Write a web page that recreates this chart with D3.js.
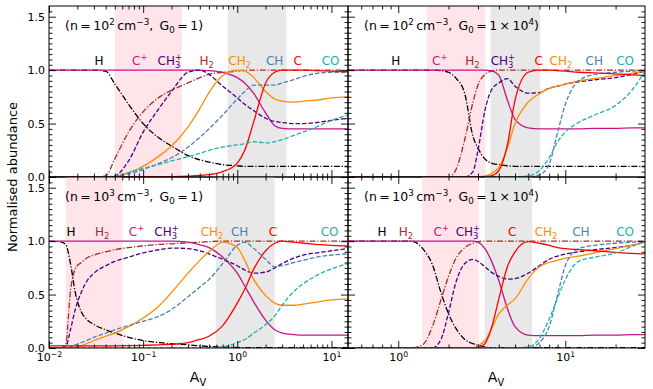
<!DOCTYPE html>
<html>
<head>
<meta charset="utf-8">
<script src="https://cdn.jsdelivr.net/npm/d3@7"></script>
<style>
body { margin: 0; background: #fff; }
svg { display: block; font-family: 'DejaVu Sans', sans-serif; }
</style>
</head>
<body>
<svg id="chart" width="653" height="389"></svg>
<script>
// A_V grids shared by the panels of each column
const avLeft = [0.01, 0.013, 0.015, 0.017, 0.019, 0.022, 0.025, 0.03, 0.04, 0.05, 0.07, 0.1, 0.15, 0.2, 0.3, 0.4, 0.5, 0.7, 1, 1.2, 1.5, 2, 2.5, 3, 4, 5, 7, 10, 15];
const avRight = [0.5, 0.7, 1, 1.2, 1.4, 1.6, 1.8, 2, 2.2, 2.5, 2.8, 3, 3.3, 3.6, 4, 4.5, 5, 6, 7, 8, 9, 10, 12, 15, 20, 25, 30];

const species = ['H', 'H2', 'Cp', 'CH3p', 'CH2', 'CH', 'C', 'CO'];

// n = 1e2, G0 = 1
const n2g1 = {
	H:    [1, 1, 1, 1, 1, 1, 1, 1, 0.99, 0.87, 0.68, 0.50, 0.36, 0.29, 0.20, 0.16, 0.14, 0.115, 0.105, 0.10, 0.10, 0.10, 0.10, 0.10, 0.10, 0.10, 0.10, 0.10, 0.10],
	H2:   [0, 0, 0, 0, 0, 0, 0, 0, 0.01, 0.17, 0.42, 0.61, 0.75, 0.81, 0.88, 0.93, 0.96, 0.98, 0.99, 1, 1, 1, 1, 1, 1, 1, 1, 1, 1],
	Cp:   [1, 1, 1, 1, 1, 1, 1, 1, 1, 1, 1, 1, 1, 1, 1, 1, 0.995, 0.98, 0.93, 0.88, 0.78, 0.60, 0.48, 0.455, 0.45, 0.45, 0.45, 0.45, 0.45],
	CH3p: [0, 0, 0, 0, 0, 0, 0, 0, 0, 0.01, 0.15, 0.42, 0.65, 0.80, 0.98, 1.0, 0.96, 0.85, 0.74, 0.68, 0.62, 0.55, 0.52, 0.51, 0.50, 0.50, 0.51, 0.53, 0.55],
	CH2:  [0, 0, 0, 0, 0, 0, 0, 0, 0, 0.005, 0.04, 0.10, 0.20, 0.29, 0.47, 0.64, 0.79, 0.95, 1.0, 0.99, 0.93, 0.80, 0.73, 0.71, 0.70, 0.71, 0.72, 0.74, 0.75],
	CH:   [0, 0, 0, 0, 0, 0, 0, 0, 0, 0.005, 0.03, 0.07, 0.13, 0.18, 0.28, 0.37, 0.45, 0.58, 0.73, 0.80, 0.86, 0.86, 0.86, 0.88, 0.91, 0.94, 0.97, 0.98, 0.98],
	C:    [0.003, 0.003, 0.003, 0.003, 0.003, 0.003, 0.003, 0.003, 0.003, 0.003, 0.003, 0.003, 0.003, 0.003, 0.008, 0.014, 0.022, 0.05, 0.13, 0.25, 0.52, 0.88, 0.98, 1.0, 1.0, 1.0, 0.995, 0.99, 0.985],
	CO:   [0, 0, 0, 0, 0, 0, 0, 0, 0, 0.005, 0.04, 0.08, 0.12, 0.15, 0.19, 0.22, 0.25, 0.28, 0.30, 0.31, 0.33, 0.32, 0.33, 0.35, 0.39, 0.42, 0.47, 0.53, 0.58]
};

// n = 1e3, G0 = 1
const n3g1 = {
	H:    [1, 0.995, 0.97, 0.78, 0.52, 0.34, 0.27, 0.22, 0.17, 0.14, 0.10, 0.07, 0.05, 0.04, 0.03, 0.02, 0.015, 0.01, 0.005, 0.003, 0.003, 0.003, 0.003, 0.003, 0.003, 0.003, 0.003, 0.003, 0.003],
	H2:   [0, 0, 0.03, 0.55, 0.74, 0.80, 0.84, 0.87, 0.90, 0.92, 0.94, 0.955, 0.97, 0.975, 0.985, 0.99, 0.995, 1, 1, 1, 1, 1, 1, 1, 1, 1, 1, 1, 1],
	Cp:   [1, 1, 1, 1, 1, 1, 1, 1, 1, 1, 1, 1, 1, 1, 0.99, 0.965, 0.94, 0.85, 0.70, 0.58, 0.43, 0.26, 0.17, 0.14, 0.125, 0.12, 0.12, 0.12, 0.12],
	CH3p: [0, 0, 0.01, 0.18, 0.36, 0.52, 0.62, 0.70, 0.77, 0.81, 0.85, 0.89, 0.92, 0.935, 0.93, 0.91, 0.88, 0.83, 0.77, 0.73, 0.70, 0.71, 0.75, 0.79, 0.84, 0.87, 0.89, 0.91, 0.93],
	CH2:  [0, 0, 0, 0, 0.005, 0.02, 0.04, 0.07, 0.11, 0.14, 0.20, 0.28, 0.40, 0.52, 0.70, 0.82, 0.90, 0.99, 0.94, 0.82, 0.64, 0.49, 0.42, 0.40, 0.40, 0.41, 0.43, 0.45, 0.46],
	CH:   [0, 0, 0, 0.01, 0.03, 0.05, 0.07, 0.10, 0.14, 0.17, 0.21, 0.25, 0.30, 0.36, 0.48, 0.57, 0.64, 0.79, 0.96, 0.99, 0.93, 0.83, 0.76, 0.77, 0.80, 0.82, 0.85, 0.87, 0.88],
	C:    [0.02, 0.02, 0.02, 0.02, 0.02, 0.02, 0.02, 0.02, 0.02, 0.02, 0.022, 0.025, 0.03, 0.035, 0.05, 0.08, 0.11, 0.21, 0.42, 0.55, 0.74, 0.91, 0.98, 1.0, 0.99, 0.98, 0.97, 0.96, 0.955],
	CO:   [0, 0, 0, 0, 0, 0, 0, 0, 0, 0, 0, 0, 0, 0, 0, 0, 0, 0.01, 0.05, 0.08, 0.14, 0.22, 0.30, 0.40, 0.53, 0.60, 0.68, 0.74, 0.79]
};

// n = 1e2, G0 = 1e4
const n2g4 = {
	H:    [1, 1, 1, 1, 1, 1, 0.995, 0.98, 0.93, 0.78, 0.38, 0.27, 0.17, 0.13, 0.115, 0.105, 0.10, 0.10, 0.10, 0.10, 0.10, 0.10, 0.10, 0.10, 0.10, 0.10, 0.10],
	H2:   [0, 0, 0, 0, 0, 0, 0, 0, 0.06, 0.35, 0.70, 0.86, 0.96, 0.99, 1, 1, 1, 1, 1, 1, 1, 1, 1, 1, 1, 1, 1],
	Cp:   [1, 1, 1, 1, 1, 1, 1, 1, 1, 1, 1, 1, 1, 0.995, 0.95, 0.72, 0.54, 0.46, 0.45, 0.45, 0.45, 0.45, 0.45, 0.455, 0.455, 0.46, 0.46],
	CH3p: [0, 0, 0, 0, 0, 0, 0, 0, 0, 0, 0.05, 0.25, 0.62, 0.81, 0.88, 0.92, 0.85, 0.785, 0.79, 0.83, 0.85, 0.87, 0.89, 0.91, 0.93, 0.96, 0.99],
	CH2:  [0, 0, 0, 0, 0, 0, 0, 0, 0, 0, 0, 0, 0.01, 0.03, 0.09, 0.27, 0.50, 0.70, 0.78, 0.83, 0.85, 0.87, 0.90, 0.92, 0.95, 0.97, 0.99],
	CH:   [0, 0, 0, 0, 0, 0, 0, 0, 0, 0, 0, 0, 0, 0, 0, 0, 0, 0, 0.02, 0.12, 0.42, 0.68, 0.90, 0.96, 0.98, 0.99, 1.0],
	C:    [0.003, 0.003, 0.003, 0.003, 0.003, 0.003, 0.003, 0.003, 0.003, 0.003, 0.003, 0.003, 0.003, 0.01, 0.06, 0.30, 0.72, 0.98, 1.0, 1.0, 0.995, 0.99, 0.98, 0.975, 0.965, 0.955, 0.95],
	CO:   [0, 0, 0, 0, 0, 0, 0, 0, 0, 0, 0, 0, 0, 0, 0, 0, 0, 0.01, 0.06, 0.18, 0.33, 0.42, 0.51, 0.58, 0.67, 0.81, 0.99]
};

// n = 1e3, G0 = 1e4
const n3g4 = {
	H:    [1, 1, 1, 1, 0.93, 0.78, 0.52, 0.32, 0.19, 0.08, 0.04, 0.025, 0.01, 0.003, 0.003, 0.003, 0.003, 0.003, 0.003, 0.003, 0.003, 0.003, 0.003, 0.003, 0.003, 0.003, 0.003],
	H2:   [0, 0, 0, 0, 0.03, 0.20, 0.45, 0.67, 0.83, 0.94, 0.98, 0.995, 1, 1, 1, 1, 1, 1, 1, 1, 1, 1, 1, 1, 1, 1, 1],
	Cp:   [1, 1, 1, 1, 1, 1, 1, 1, 1, 1, 1, 0.99, 0.93, 0.82, 0.63, 0.37, 0.20, 0.12, 0.115, 0.115, 0.115, 0.115, 0.115, 0.12, 0.12, 0.125, 0.125],
	CH3p: [0, 0, 0, 0, 0, 0, 0.08, 0.33, 0.60, 0.79, 0.83, 0.81, 0.76, 0.71, 0.67, 0.645, 0.65, 0.70, 0.77, 0.83, 0.86, 0.88, 0.90, 0.92, 0.94, 0.96, 0.99],
	CH2:  [0, 0, 0, 0, 0, 0, 0, 0, 0, 0, 0, 0.02, 0.07, 0.17, 0.32, 0.40, 0.46, 0.65, 0.76, 0.80, 0.82, 0.84, 0.86, 0.89, 0.93, 0.96, 0.99],
	CH:   [0, 0, 0, 0, 0, 0, 0, 0, 0, 0, 0, 0, 0, 0, 0, 0, 0, 0, 0.05, 0.20, 0.50, 0.77, 0.93, 0.96, 0.98, 0.99, 1.0],
	C:    [0.003, 0.003, 0.003, 0.003, 0.003, 0.003, 0.003, 0.003, 0.003, 0.003, 0.003, 0.005, 0.04, 0.18, 0.46, 0.76, 0.90, 0.995, 0.98, 0.96, 0.94, 0.93, 0.92, 0.91, 0.895, 0.885, 0.88],
	CO:   [0, 0, 0, 0, 0, 0, 0, 0, 0, 0, 0, 0, 0, 0, 0, 0, 0, 0.01, 0.09, 0.27, 0.47, 0.64, 0.81, 0.85, 0.89, 0.95, 1.0]
};

// shaded A_V ranges [pink, grey]
const bandsTL = [[0.05, 0.257], [0.79, 3.34]];
const bandsBL = [[0.0151, 0.0604], [0.59, 2.49]];
const bandsTR = [[1.48, 3.32], [3.57, 7.06]];
const bandsBR = [[1.39, 3.03], [3.29, 6.33]];

// species label A_V positions
const labelsTL = [['H', 0.034], ['Cp', 0.092], ['CH3p', 0.192], ['H2', 0.474], ['CH2', 1.06], ['CH', 2.49], ['C', 4.37], ['CO', 9.8]];
const labelsBL = [['H', 0.0171], ['H2', 0.0367], ['Cp', 0.085], ['CH3p', 0.177], ['CH2', 0.54], ['CH', 1.06], ['C', 2.39], ['CO', 9.55]];
const labelsTR = [['H', 0.965], ['Cp', 1.77], ['H2', 2.78], ['CH3p', 4.23], ['C', 6.93], ['CH2', 9.42], ['CH', 14.9], ['CO', 22.8]];
const labelsBR = [['H', 0.80], ['H2', 1.11], ['Cp', 1.81], ['CH3p', 2.61], ['C', 4.81], ['CH2', 7.67], ['CH', 12.4], ['CO', 22.8]];

const style = {
	H:    { color: '#000000', dash: '6,1.8,1.2,1.8' },
	H2:   { color: '#a52a2a', dash: '6,1.8,1.2,1.8' },
	Cp:   { color: '#c71585', dash: null },
	CH3p: { color: '#4b0082', dash: '4.5,2' },
	CH2:  { color: '#ff8c00', dash: null },
	CH:   { color: '#4682b4', dash: '4.5,2' },
	C:    { color: '#ff0000', dash: null },
	CO:   { color: '#20b2aa', dash: '4.5,2' }
};
// parts: [text, 'n' | 'sup' | 'sub' | 'stack']
const labelParts = {
	H: [['H', 'n']],
	H2: [['H', 'n'], ['2', 'sub']],
	Cp: [['C', 'n'], ['+', 'sup']],
	CH3p: [['CH', 'n'], ['3', 'sub'], ['+', 'stack']],
	CH2: [['CH', 'n'], ['2', 'sub']],
	CH: [['CH', 'n']],
	C: [['C', 'n']],
	CO: [['CO', 'n']]
};

const svg = d3.select('#chart');
const cols = { left: [49, 348], right: [348, 645] };
const rows = { top: [6, 177], bottom: [177, 348] };

const rich = (text, parts, size) => {
	let off = 0;
	parts.forEach(([s, kind]) => {
		let target = 0;
		if (kind === 'sup') target = -0.4 * size;
		if (kind === 'sub') target = 0.25 * size;
		if (kind === 'stack') target = -0.42 * size;
		let t = text.append('tspan').text(s).attr('dy', target - off);
		if (kind !== 'n') t.attr('font-size', size * 0.7);
		if (kind === 'stack') t.attr('dx', -0.45 * size);
		off = target;
	});
};

const panel = (cfg) => {
	let [x0, x1] = cols[cfg.col], [y0, y1] = rows[cfg.row],
		x = d3.scaleLog().domain(cfg.domain).range([x0, x1]),
		y = d3.scaleLinear().domain([0, 1.6]).range([y1, y0]),
		id = 'clip-' + cfg.col + cfg.row,
		g = svg.append('g');

	svg.append('clipPath').attr('id', id)
		.append('rect').attr('x', x0).attr('y', y0).attr('width', x1 - x0).attr('height', y1 - y0);

	g.selectAll('rect.band').data(cfg.bands).enter().append('rect')
		.attr('x', d => x(d[0]))
		.attr('y', y0)
		.attr('width', d => x(d[1]) - x(d[0]))
		.attr('height', y1 - y0)
		.attr('fill', (d, i) => i === 0 ? '#ffe4e9' : '#e8e8e8');

	let line = d3.line()
		.x(d => x(d[0]))
		.y(d => y(d[1]))
		.curve(d3.curveMonotoneX);

	let lines = g.append('g').attr('clip-path', `url(#${id})`);
	species.forEach(s => {
		lines.append('path')
			.datum(cfg.grid.map((a, i) => [a, cfg.data[s][i]]))
			.attr('d', line)
			.attr('fill', 'none')
			.attr('stroke', style[s].color)
			.attr('stroke-width', 1.3)
			.attr('stroke-dasharray', style[s].dash);
	});

	cfg.labels.forEach(([s, a]) => {
		let t = g.append('text')
			.attr('x', x(a))
			.attr('y', y(1.05))
			.attr('text-anchor', 'middle')
			.attr('font-size', 12)
			.attr('fill', style[s].color);
		rich(t, labelParts[s], 12);
	});

	let note = g.append('text')
		.attr('x', x0 + 16)
		.attr('y', y0 + 24)
		.attr('font-size', 12.5)
		.attr('fill', '#000');
	rich(note, cfg.note, 12.5);

	// axes: ticks inward on all four sides
	let decades = cfg.majors,
		minors = [];
	d3.range(Math.floor(Math.log10(cfg.domain[0])), Math.ceil(Math.log10(cfg.domain[1]))).forEach(e => {
		for (let k = 2; k < 10; k++) {
			let v = k * Math.pow(10, e);
			if (v > cfg.domain[0] && v < cfg.domain[1]) minors.push(v);
		}
	});
	let yMajor = [0, 0.5, 1.0, 1.5],
		yMinor = d3.range(1, 33).map(i => i * 0.05).filter(v => Math.abs(v * 2 - Math.round(v * 2)) > 1e-6 && v < 1.6);

	let axes = [
		[d3.axisBottom(x).tickValues(decades).tickSize(-7), `translate(0,${y1})`, cfg.row === 'bottom'],
		[d3.axisBottom(x).tickValues(minors).tickSize(-3.5), `translate(0,${y1})`, false],
		[d3.axisTop(x).tickValues(decades).tickSize(-7), `translate(0,${y0})`, false],
		[d3.axisTop(x).tickValues(minors).tickSize(-3.5), `translate(0,${y0})`, false],
		[d3.axisLeft(y).tickValues(yMajor).tickSize(-7), `translate(${x0},0)`, cfg.col === 'left'],
		[d3.axisLeft(y).tickValues(yMinor).tickSize(-3.5), `translate(${x0},0)`, false],
		[d3.axisRight(y).tickValues(yMajor).tickSize(-7), `translate(${x1},0)`, false],
		[d3.axisRight(y).tickValues(yMinor).tickSize(-3.5), `translate(${x1},0)`, false]
	];
	axes.forEach(([ax, tr, labelled], i) => {
		let a = g.append('g').attr('transform', tr)
			.call(ax.tickPadding(4).tickFormat(labelled ? (i === 4 ? d3.format('.1f') : d => d) : ''));
		a.select('.domain').remove();
		a.selectAll('line').attr('stroke', '#000').attr('stroke-width', 0.9);
		a.selectAll('text').attr('font-family', "'DejaVu Sans', sans-serif").attr('font-size', 11).attr('fill', '#000');
		if (labelled && i === 0) {
			a.selectAll('text').each(function (d) {
				let t = d3.select(this).text(null).attr('dy', null).attr('y', 13),
					e = Math.round(Math.log10(d));
				rich(t, [['10', 'n'], [e < 0 ? '\u2212' + (-e) : String(e), 'sup']], 11);
			});
		}
	});

	g.append('rect')
		.attr('x', x0).attr('y', y0)
		.attr('width', x1 - x0).attr('height', y1 - y0)
		.attr('fill', 'none').attr('stroke', '#000').attr('stroke-width', 1);
};

const noteParts = (dens, g0) => [['(n\u2009=\u200910', 'n'], [dens, 'sup'], ['\u2009cm', 'n'], ['\u22123', 'sup'], [',\u2002G', 'n'], ['0', 'sub'], ['\u2009=\u2009' + g0, 'n']]
	.concat(g0 === '1' ? [[')', 'n']] : [['4', 'sup'], [')', 'n']]);

panel({ col: 'left', row: 'top', domain: [0.01, 15], majors: [0.01, 0.1, 1, 10], grid: avLeft, data: n2g1, bands: bandsTL, labels: labelsTL, note: noteParts('2', '1') });
panel({ col: 'left', row: 'bottom', domain: [0.01, 15], majors: [0.01, 0.1, 1, 10], grid: avLeft, data: n3g1, bands: bandsBL, labels: labelsBL, note: noteParts('3', '1') });
panel({ col: 'right', row: 'top', domain: [0.5, 30], majors: [1, 10], grid: avRight, data: n2g4, bands: bandsTR, labels: labelsTR, note: noteParts('2', '1\u2009\u00d7\u200910') });
panel({ col: 'right', row: 'bottom', domain: [0.5, 30], majors: [1, 10], grid: avRight, data: n3g4, bands: bandsBR, labels: labelsBR, note: noteParts('3', '1\u2009\u00d7\u200910') });

// axis titles
[198, 496].forEach(cx => {
	let t = svg.append('text')
		.attr('x', cx).attr('y', 382)
		.attr('text-anchor', 'middle')
		.attr('font-size', 14);
	rich(t, [['A', 'n'], ['V', 'sub']], 14);
});
svg.append('text')
	.attr('transform', 'translate(17,177) rotate(-90)')
	.attr('text-anchor', 'middle')
	.attr('font-size', 13)
	.text('Normalised abundance');
</script>
</body>
</html>
